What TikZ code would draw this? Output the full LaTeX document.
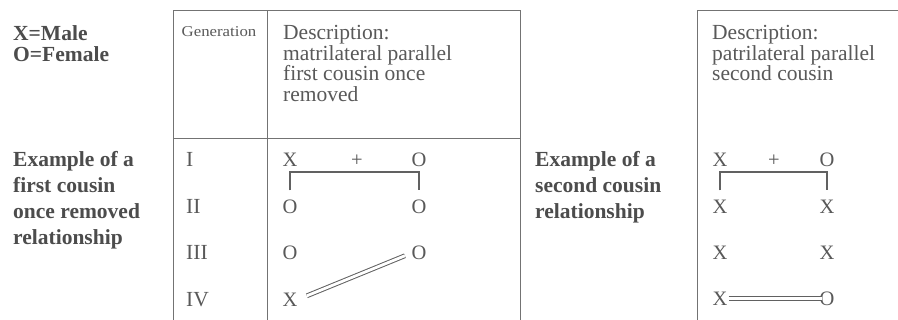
\documentclass[tikz,border=0pt]{standalone}
\usepackage{fontspec}
\setmainfont{Liberation Serif}
\usepackage{graphicx}
\begin{document}
\begin{tikzpicture}[x=1pt,y=-1pt,
  boldlbl/.style={font=\fontsize{21.5}{21.5}\selectfont\bfseries, text=black!70, anchor=base west, inner sep=0pt},
  plain/.style={font=\fontsize{21.5}{21.5}\selectfont, text=black!65, anchor=base west, inner sep=0pt},
  sym/.style={font=\fontsize{20.5}{20.5}\selectfont, text=black!65, anchor=base, inner sep=0pt, text height=13.8pt, text depth=0pt},
  rule/.style={draw=black!55, line width=0.9pt},
  bracket/.style={draw=black!62, line width=1.4pt},
  wedL/.style={draw=black!62, double=white, line width=1pt, double distance=2.8pt},
  wedR/.style={draw=black!62, double=white, line width=1.3pt, double distance=2.2pt},
]
\useasboundingbox[fill=white] (0,0) rectangle (898,320);

% table frames
\draw[rule] (173,320) -- (173,10.5) -- (520,10.5) -- (520,320);
\draw[rule] (267,10.5) -- (267,320);
\draw[rule] (173,138) -- (520,138);
\draw[rule] (697,320) -- (697,10.5) -- (898,10.5);

% key
\node[boldlbl] (key1) at (13,40.5) {X=Male};
\node[boldlbl] (key2) at (13,61.5) {O=Female};

% left labels
\node[boldlbl] (exa1) at (13,167) {Example of a};
\node[boldlbl] (exa2) at (13,193) {first cousin};
\node[boldlbl] (exa3) at (13,219) {once removed};
\node[boldlbl] (exa4) at (13,245) {relationship};

% middle labels
\node[boldlbl] (exb1) at (535,167) {Example of a};
\node[boldlbl] (exb2) at (535,193) {second cousin};
\node[boldlbl] (exb3) at (535,219) {relationship};

% header
\node[plain, anchor=base, font=\fontsize{15}{15}\selectfont] (gen) at (219,36.5) {\scalebox{1.12}[1]{Generation}};
\node[plain] (da1) at (283,40) {Description:};
\node[plain] (da2) at (283,60.5) {matrilateral parallel};
\node[plain] (da3) at (283,81) {first cousin once};
\node[plain] (da4) at (283,101.5) {removed};

\node[plain] (db1) at (712,40) {Description:};
\node[plain] (db2) at (712,60.5) {patrilateral parallel};
\node[plain] (db3) at (712,81) {second cousin};

% generations
\node[plain] (g1) at (186,167) {I};
\node[plain] (g2) at (186,213.5) {II};
\node[plain] (g3) at (186,260) {III};
\node[plain] (g4) at (186,306.5) {IV};

% left diagram
\node[sym] (l1a) at (290,167) {X};
\node[sym] (l1p) at (357,167) {+};
\node[sym] (l1b) at (419,167) {O};
\node[sym] (l2a) at (290,213.5) {O};
\node[sym] (l2b) at (419,213.5) {O};
\node[sym] (l3a) at (290,260) {O};
\node[sym] (l3b) at (419,260) {O};
\node[sym] (l4a) at (290,306.5) {X};
\coordinate (barL) at (354,172);
\draw[bracket] ([yshift=9pt]l2a.north) -- (l2a.north |- barL) -- (l2b.north |- barL) -- ([yshift=9pt]l2b.north);
\draw[wedL, shorten <=10pt, shorten >=7pt] (l4a.east) -- (l3b.west);

% right diagram
\node[sym] (r1a) at (720,167) {X};
\node[sym] (r1p) at (774,167) {+};
\node[sym] (r1b) at (827,167) {O};
\node[sym] (r2a) at (720,213.5) {X};
\node[sym] (r2b) at (827,213.5) {X};
\node[sym] (r3a) at (720,259.5) {X};
\node[sym] (r3b) at (827,259.5) {X};
\node[sym] (r4a) at (720,305.5) {X};
\node[sym] (r4b) at (827,305.5) {O};
\coordinate (barR) at (772,172);
\draw[bracket] ([yshift=9pt]r2a.north) -- (r2a.north |- barR) -- (r2b.north |- barR) -- ([yshift=9pt]r2b.north);
\draw[wedR, shorten <=1pt, shorten >=-3pt] (r4a.east) -- (r4b.west);
\end{tikzpicture}
\end{document}
